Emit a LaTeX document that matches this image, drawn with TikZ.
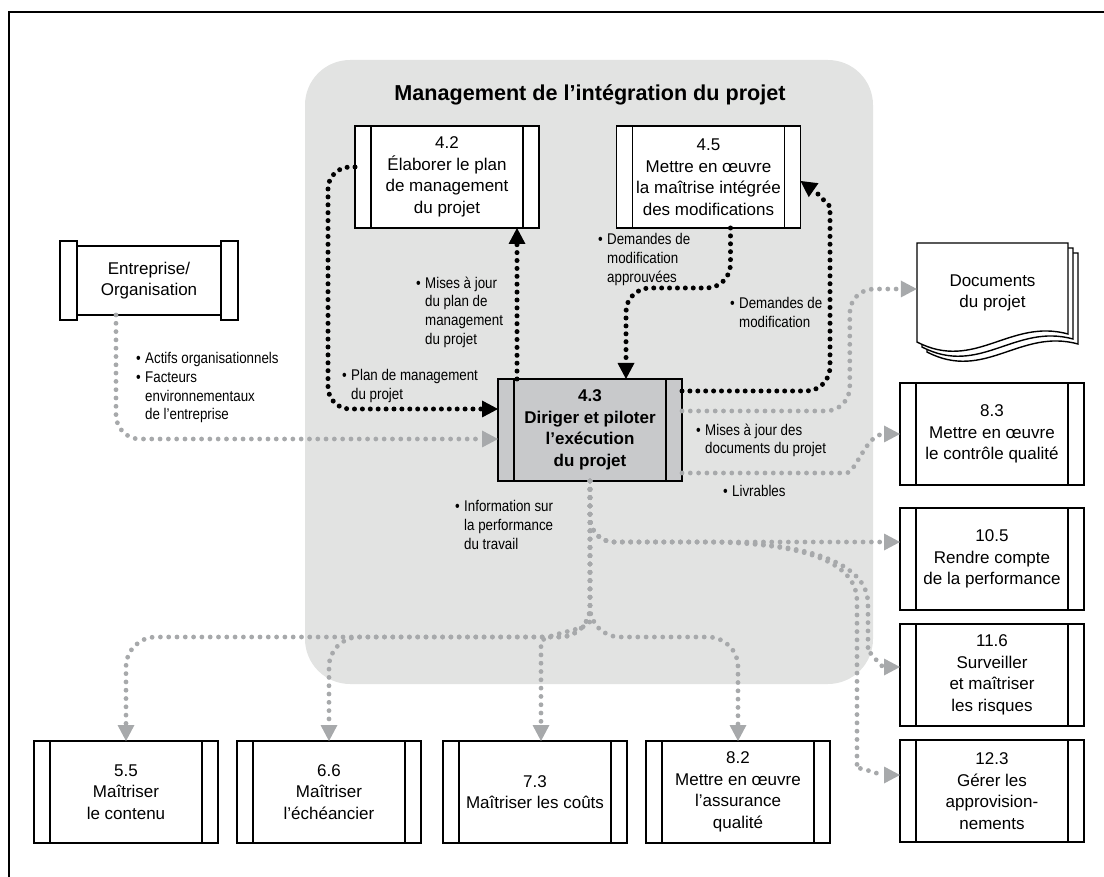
\documentclass[tikz,border=0pt]{standalone}
\usepackage{fontspec}
\setmainfont{Liberation Sans}
\newfontfamily\condfont[FakeStretch=0.86]{Liberation Sans}
\usetikzlibrary{positioning,arrows.meta,calc}

\definecolor{intbg}{HTML}{E2E3E2}
\definecolor{procgray}{HTML}{C8C9CB}
\definecolor{flowgray}{HTML}{A7A9AB}

\newcommand{\lblbul}{\makebox[9pt][l]{•}}
\newcommand{\lblind}{\hspace*{9pt}}

\begin{document}
\begin{tikzpicture}[
  x=1pt, y=-1pt,
  font=\fontsize{17}{21.5}\selectfont,
  proc/.style={
    rectangle,
    draw=black,
    line width=1.4pt,
    fill=white,
    minimum width=184pt,
    minimum height=102pt,
    inner sep=0pt,
    outer sep=0pt,
    align=center,
    path picture={
      \draw[line width=1.4pt]
        ([xshift=16pt]path picture bounding box.south west) -- ([xshift=16pt]path picture bounding box.north west)
        ([xshift=-16pt]path picture bounding box.south east) -- ([xshift=-16pt]path picture bounding box.north east);
    },
  },
  ext/.style={
    rectangle,
    draw=black,
    line width=1.4pt,
    fill=white,
    minimum width=144pt,
    minimum height=69pt,
    inner sep=0pt,
    outer sep=0pt,
    align=center,
  },
  lbl/.style={anchor=north west, inner sep=0pt, align=left,
    font=\condfont\fontsize{15.5}{18.8}\selectfont},
  blk/.style={draw=black, line width=5pt, line cap=round,
    dash pattern=on 0pt off 7.9pt, rounded corners=24pt,
    -{Triangle[length=16pt,width=17pt,line width=0pt]}},
  gry/.style={blk, draw=flowgray, line width=4.8pt, dash pattern=on 0pt off 8.3pt},
]

  \useasboundingbox (0,0) rectangle (1104,877);

  % --- frame and integration area ---
  \draw[line width=2.6pt] (9,877) -- (9,12) -- (1104,12);
  \fill[intbg, rounded corners=45pt] (305,60) rectangle (873,684);
  \node[font=\bfseries\fontsize{21.6}{24}\selectfont] (title) at (590,95) {Management de l’intégration du projet};

  % --- processes inside the area ---
  \node[proc] (p42) at (447,177) {4.2\\Élaborer le plan\\de management\\du projet};
  \node[proc] (p45) at (708.5,177) {4.5\\Mettre en œuvre\\la maîtrise intégrée\\des modifications};
  \node[proc, fill=procgray, font=\bfseries\fontsize{17}{21.5}\selectfont] (p43) at (590,430) {4.3\\Diriger et piloter\\l’exécution\\du projet};

  % --- enterprise ---
  \node[ext] (ent) at (149,280.5) {Entreprise/\\Organisation};
  \draw[line width=1.4pt, fill=white] ([xshift=-17pt,yshift=5pt]ent.north west) rectangle ([yshift=-5pt]ent.south west);
  \draw[line width=1.4pt, fill=white] ([yshift=5pt]ent.north east) rectangle ([xshift=17pt,yshift=-5pt]ent.south east);

  % --- project documents (stack of sheets) ---
  \coordinate (docnw) at (917,243);
  \foreach \d in {10,5,0} {
    \draw[line width=1.4pt, fill=white] ($(docnw)+(\d,\d)$) -- ($(docnw)+(151+\d,\d)$) -- ($(docnw)+(151+\d,91+\d)$)
      .. controls ($(docnw)+(93+\d,75+\d)$) and ($(docnw)+(58+\d,129+\d)$) .. ($(docnw)+(\d,99+\d)$) -- cycle;
  }
  \node[minimum width=151pt, minimum height=100pt, inner sep=0pt, align=center] (docs) at ($(docnw)+(75.5,50)$) {Documents\\du projet};

  % --- right column ---
  \node[proc] (p83) at (992,434) {8.3\\Mettre en œuvre\\le contrôle qualité};
  \node[proc, below=23pt of p83] (p105) {10.5\\Rendre compte\\de la performance};
  \node[proc, below=14pt of p105] (p116) {11.6\\Surveiller\\et maîtriser\\les risques};
  \node[proc, below=14pt of p116] (p123) {12.3\\Gérer les\\approvision-\\nements};

  % --- bottom row ---
  \node[proc] (p55) at (126,792) {5.5\\Maîtriser\\le contenu};
  \node[proc, right=19pt of p55] (p66) {6.6\\Maîtriser\\l’échéancier};
  \node[proc, right=22pt of p66] (p73) {7.3\\Maîtriser les coûts};
  \node[proc, right=19pt of p73] (p82) {8.2\\Mettre en œuvre\\l’assurance\\qualité};

  % --- black loops ---
  \coordinate (plnbend) at ($(p42.west |- p43.west)+(-27,-21)$);
  \draw[blk, rounded corners=22pt] ([yshift=10pt]p42.west) -| (plnbend) -- ([yshift=21pt]p43.west);
  \coordinate (updtop) at ($(p43.north |- p42.south)+(-73,0)$);
  \draw[blk] ([xshift=-73pt]p43.north) -- (updtop);
  \coordinate (apprbend) at ($(p45.south)+(-82.5,60)$);
  \draw[blk] ([xshift=22pt]p45.south) |- (apprbend) -- ([xshift=36pt]p43.north);
  \coordinate (modbend) at ($(p43.east)+(148,-200)$);
  \draw[blk] ([yshift=39pt]p43.east) -| (modbend) to[out=90,in=-35] ([yshift=-4pt]p45.east);

  % --- grey flows ---
  \draw[gry] ([xshift=-33pt]ent.south) |- ([yshift=-9pt]p43.west);
  \coordinate (docbend) at ($(docs.west)+(-67,-4)$);
  \draw[gry] ([yshift=19pt]p43.east) -| (docbend) -- ([yshift=4pt]docs.west);
  \coordinate (qcbend) at ($(p43.east)+(140,43)$);
  \draw[gry] ([yshift=-43pt]p43.east) -- (qcbend) to[out=0,in=180] (p83.west);

  \draw[gry] (p43.south) |- ([yshift=17pt]p105.west);
  \coordinate (rsk1) at ($(p43.south)+(100,61)$);
  \coordinate (rsk2) at ($(p116.west)+(-32,-47)$);
  \draw[gry] (p43.south) |- (rsk1) to[out=0,in=90] (rsk2) to[out=-90,in=180] ([yshift=8pt]p116.west);
  \coordinate (prc1) at ($(p43.south)+(85,61)$);
  \coordinate (prc2) at ($(p123.west)+(-43,-166)$);
  \coordinate (prc3) at ($(p123.west)+(-43,-46)$);
  \draw[gry] (p43.south) |- (prc1) to[out=0,in=90] (prc2) -- (prc3) to[out=-90,in=180] ([yshift=16pt]p123.west);

  \coordinate (botrow) at ($(p43.south)+(0,156)$);
  \foreach \b in {p55,p66,p82} {
    \draw[gry, rounded corners=30pt] (p43.south) |- (botrow -| \b.north) -- (\b.north);
  }
  \draw[gry] (p43.south) -- ($(p43.south)+(0,116)$) to[out=-90,in=90] ($(p73.north)+(6,-74)$) -- ([xshift=6pt]p73.north);

  % --- labels ---
  \node[lbl] (lblorg) at (136,352) {\lblbul Actifs organisationnels\\\lblbul Facteurs\\\lblind environnementaux\\\lblind de l’entreprise};
  \node[lbl] (lblplan) at (342,369.5) {\lblbul Plan de management\\\lblind du projet};
  \node[lbl] (lblmaj) at (416,276.5) {\lblbul Mises à jour\\\lblind du plan de\\\lblind management\\\lblind du projet};
  \node[lbl] (lblappr) at (598,233.5) {\lblbul Demandes de\\\lblind modification\\\lblind approuvées};
  \node[lbl] (lblmod) at (730,297.5) {\lblbul Demandes de\\\lblind modification};
  \node[lbl] (lbldoc) at (696,423.5) {\lblbul Mises à jour des\\\lblind documents du projet};
  \node[lbl] (lbllivr) at (723,485.5) {\lblbul Livrables};
  \node[lbl] (lblinfo) at (455,500.5) {\lblbul Information sur\\\lblind la performance\\\lblind du travail};

\end{tikzpicture}
\end{document}
